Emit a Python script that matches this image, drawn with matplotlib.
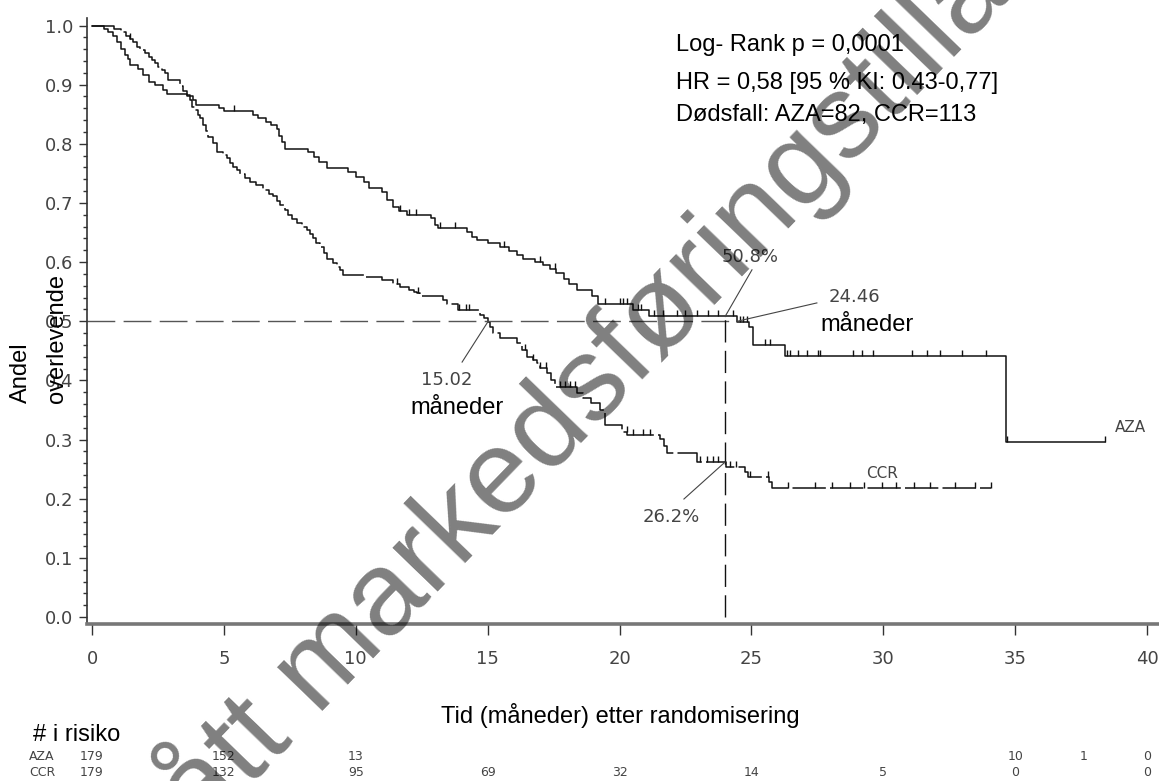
import numpy as np
import matplotlib
matplotlib.use('Agg')
import matplotlib.pyplot as plt
from matplotlib.path import Path

plt.rcParams['font.family'] = ['Liberation Sans', 'DejaVu Sans']
plt.rcParams['lines.scale_dashes'] = False

# Kaplan-Meier steps: time of drop (months), survival after drop
aza_t = [0.0, 0.45, 0.6, 0.8, 0.95, 1.1, 1.25, 1.35, 1.44, 1.75, 1.95, 2.15, 2.4, 2.7, 2.83,
         3.6, 3.83, 3.95, 4.8, 5.0, 6.1, 6.3, 6.6, 6.8, 7.0, 7.1, 7.2, 7.32, 8.2, 8.4, 8.6,
         8.9, 9.7, 10.0, 10.3, 10.5, 11.0, 11.2, 11.42, 11.65, 11.93, 12.85, 13.0, 13.13,
         14.2, 14.4, 14.58, 15.0, 15.47, 15.8, 16.1, 16.35, 16.8, 17.1, 17.35, 17.6, 17.9,
         18.1, 18.37, 18.95, 19.2, 20.5, 21.1, 24.46, 24.9, 25.07, 26.27, 34.65]
aza_s = [1.0, 0.994, 0.989, 0.983, 0.972, 0.961, 0.950, 0.944, 0.933, 0.927, 0.916, 0.905,
         0.899, 0.891, 0.885, 0.880, 0.874, 0.866, 0.860, 0.855, 0.849, 0.843, 0.837, 0.831,
         0.825, 0.814, 0.803, 0.792, 0.786, 0.778, 0.770, 0.759, 0.753, 0.744, 0.736, 0.725,
         0.719, 0.705, 0.694, 0.686, 0.680, 0.674, 0.663, 0.657, 0.651, 0.643, 0.637, 0.632,
         0.626, 0.619, 0.612, 0.606, 0.600, 0.595, 0.588, 0.581, 0.572, 0.563, 0.553, 0.542,
         0.530, 0.519, 0.509, 0.499, 0.491, 0.460, 0.441, 0.296]
aza_end = 38.4

ccr_t = [0.0, 0.85, 1.1, 1.3, 1.44, 1.55, 1.7, 1.82, 2.0, 2.15, 2.26, 2.4, 2.51, 2.65, 2.77,
         2.89, 3.34, 3.45, 3.59, 3.71, 3.8, 3.9, 4.0, 4.09, 4.22, 4.32, 4.41, 4.6, 4.73, 4.95,
         5.1, 5.25, 5.36, 5.5, 5.61, 5.8, 5.99, 6.2, 6.49, 6.7, 6.87, 7.0, 7.13, 7.3, 7.44,
         7.6, 7.76, 7.95, 8.14, 8.25, 8.39, 8.5, 8.64, 8.8, 8.9, 9.15, 9.28, 9.4, 9.53, 10.3,
         11.0, 11.42, 11.68, 12.0, 12.2, 12.31, 12.43, 13.32, 13.45, 13.89, 14.71, 14.85,
         15.02, 15.1, 15.21, 15.47, 16.1, 16.3, 16.48, 16.7, 16.86, 17.0, 17.24, 17.4, 17.55,
         18.37, 18.62, 18.9, 19.26, 19.45, 20.1, 20.3, 21.55, 21.7, 21.8, 22.92, 24.05,
         24.75, 24.85, 25.65, 25.76]
ccr_s = [1.0, 0.994, 0.989, 0.983, 0.978, 0.972, 0.964, 0.958, 0.953, 0.947, 0.942, 0.936,
         0.930, 0.925, 0.919, 0.908, 0.897, 0.889, 0.883, 0.874, 0.863, 0.857, 0.849, 0.843,
         0.832, 0.821, 0.812, 0.801, 0.787, 0.781, 0.776, 0.768, 0.761, 0.755, 0.749, 0.743,
         0.736, 0.730, 0.722, 0.716, 0.711, 0.704, 0.697, 0.688, 0.680, 0.673, 0.666, 0.660,
         0.654, 0.647, 0.640, 0.633, 0.626, 0.615, 0.606, 0.598, 0.592, 0.586, 0.578, 0.575,
         0.570, 0.563, 0.558, 0.553, 0.550, 0.547, 0.542, 0.536, 0.530, 0.519, 0.511, 0.505,
         0.499, 0.490, 0.481, 0.471, 0.463, 0.452, 0.440, 0.434, 0.429, 0.421, 0.412, 0.400,
         0.389, 0.378, 0.370, 0.362, 0.350, 0.325, 0.313, 0.307, 0.301, 0.289, 0.277, 0.262,
         0.254, 0.245, 0.237, 0.229, 0.218]
ccr_end = 34.08

# censored observations (months)
aza_cens = [5.4, 11.67, 12.0, 12.3, 13.19, 13.76, 15.6, 16.98, 17.55, 19.45, 20.0, 20.14,
            20.27, 20.68, 20.8, 21.3, 21.66, 22.16, 22.48, 22.92, 23.36, 23.74, 24.31,
            24.56, 24.68, 24.82, 25.5, 25.7, 26.33, 26.46, 26.77, 27.09, 27.53, 27.6,
            28.86, 29.18, 29.62, 31.07, 31.64, 32.14, 33.0, 33.9, 34.7, 38.4]
ccr_cens = [1.44, 11.55, 12.36, 13.93, 14.18, 14.3, 16.4, 16.7, 17.0, 17.2, 17.74, 17.93,
            18.12, 18.31, 20.27, 20.5, 20.9, 21.15, 23.05, 23.3, 23.55, 23.74, 24.2, 24.4,
            24.94, 25.62, 26.4, 27.4, 28.05, 28.73, 29.27, 29.95, 30.48, 31.16, 31.77,
            32.7, 33.47, 34.08]

# numbers at risk
risk_times = [0, 5, 10, 15, 20, 25, 30, 35, 40]
aza_risk = ['179', '152', '13', '', '', '', '', '10', '0']
ccr_risk = ['179', '132', '95', '69', '32', '14', '5', '0', '0']
aza_risk_extra = (37.6, '1')

median_aza, median_ccr = 24.46, 15.02
s24_aza, s24_ccr = 0.508, 0.262


def surv_at(tt, ss, x):
    idx = np.searchsorted(tt, x, side='right') - 1
    return np.asarray(ss)[idx]


fig = plt.figure(figsize=(11.59, 7.81), dpi=100)
ax = fig.add_axes([87 / 1159, 157 / 781, 1072 / 1159, 606 / 781])

ink = '#111111'
grey = '#444444'

# curves
ax.step(aza_t + [aza_end], aza_s + [aza_s[-1]], where='post', color=ink, lw=1.1)
ccr_line, = ax.step(ccr_t + [ccr_end], ccr_s + [ccr_s[-1]], where='post', color=ink, lw=1.1)
ccr_line.set_dashes((24, 3))

tick_marker = Path([(0, 0), (0, 1)])
ax.plot(aza_cens, surv_at(aza_t, aza_s, aza_cens), ls='none', marker=tick_marker,
        ms=8, mew=1, color=ink)
ax.plot(ccr_cens, surv_at(ccr_t, ccr_s, ccr_cens), ls='none', marker=tick_marker,
        ms=8, mew=1, color=ink)

# reference lines
h, = ax.plot([-0.19, median_aza], [0.5, 0.5], color='#555555', lw=1)
h.set_dashes((20, 6))
v, = ax.plot([24, 24], [0, s24_aza], color=ink, lw=1)
v.set_dashes((16, 6))

# annotations
num_font = dict(family='DejaVu Sans', fontsize=13, color=grey)
ax.text(24.94, 0.609, '50.8%', ha='center', va='center', **num_font)
ax.plot([25.02, 24], [0.587, s24_aza], color=grey, lw=0.8)
ax.text(28.92, 0.541, '24.46', ha='center', va='center', **num_font)
ax.text(29.38, 0.494, 'måneder', ha='center', va='center', fontsize=17)
ax.plot([27.48, median_aza], [0.531, 0.5], color=grey, lw=0.8)
ax.text(13.46, 0.401, '15.02', ha='center', va='center', **num_font)
ax.text(13.84, 0.353, 'måneder', ha='center', va='center', fontsize=17)
ax.plot([14.03, median_ccr], [0.431, 0.5], color=grey, lw=0.8)
ax.text(21.95, 0.169, '26.2%', ha='center', va='center', **num_font)
ax.plot([22.44, 24], [0.1995, s24_ccr], color=grey, lw=0.8)
ax.text(29.95, 0.243, 'CCR', ha='center', va='center', family='DejaVu Sans',
        fontsize=11, color=grey)
ax.text(39.35, 0.320, 'AZA', ha='center', va='center', family='DejaVu Sans',
        fontsize=11, color=grey)

ax.text(22.14, 0.967, 'Log- Rank p = 0,0001', ha='left', va='center', fontsize=17)
ax.text(22.14, 0.903, 'HR = 0,58 [95 % KI: 0.43-0,77]', ha='left', va='center', fontsize=17)
ax.text(22.14, 0.849, 'Dødsfall: AZA=82, CCR=113', ha='left', va='center', fontsize=17)

# axes styling
ax.set_xlim(-0.19, 40.45)
ax.set_ylim(-0.0118, 1.0127)
ax.set_xticks(np.arange(0, 41, 5))
ax.set_yticks(np.arange(0, 1.01, 0.1))
ax.set_yticks(np.arange(0, 1.001, 0.02), minor=True)
ax.set_yticklabels(['%.1f' % y for y in np.arange(0, 1.01, 0.1)])
for lab in ax.get_xticklabels() + ax.get_yticklabels():
    lab.set_family('DejaVu Sans')
    lab.set_fontsize(13)
    lab.set_color(grey)
ax.tick_params(axis='y', which='major', length=6, width=1, color='#333333', pad=4)
ax.tick_params(axis='y', which='minor', length=3, width=1, color='#333333')
ax.tick_params(axis='x', which='major', length=8, width=1, color='#333333', pad=11)
ax.spines['top'].set_visible(False)
ax.spines['right'].set_visible(False)
ax.spines['left'].set_color('#333333')
ax.spines['left'].set_linewidth(1.2)
ax.spines['bottom'].set_color('#777777')
ax.spines['bottom'].set_linewidth(2.6)

# axis titles
fig.text(21 / 1159, 1 - 403 / 781, 'Andel', rotation=90, ha='center', va='bottom', fontsize=17)
fig.text(57 / 1159, 1 - 403 / 781, 'overlevende', rotation=90, ha='center', va='bottom',
         fontsize=17)
fig.text(620 / 1159, 1 - 715 / 781, 'Tid (måneder) etter randomisering', ha='center',
         va='center', fontsize=17)

# numbers at risk
fig.text(33 / 1159, 1 - 735 / 781, '# i risiko', ha='left', va='center', fontsize=17)
row_font = dict(family='DejaVu Sans', fontsize=9, color=grey, va='center')
fig.text(29 / 1159, 1 - 756 / 781, 'AZA', ha='left', **row_font)
fig.text(29 / 1159, 1 - 772 / 781, 'CCR', ha='left', **row_font)
for tm, a, c in zip(risk_times, aza_risk, ccr_risk):
    xf = (92 + tm * 26.38) / 1159
    fig.text(xf, 1 - 756 / 781, a, ha='center', **row_font)
    fig.text(xf, 1 - 772 / 781, c, ha='center', **row_font)
fig.text((92 + aza_risk_extra[0] * 26.38) / 1159, 1 - 756 / 781, aza_risk_extra[1],
         ha='center', **row_font)

# watermark
fig.text(606 / 1159, 1 - 367 / 781, 'Utgått markedsføringstillatelse', rotation=46,
         rotation_mode='anchor', ha='center', va='center', fontsize=86, color='black',
         alpha=0.5, zorder=20)

fig.savefig('out.png', dpi=100)
